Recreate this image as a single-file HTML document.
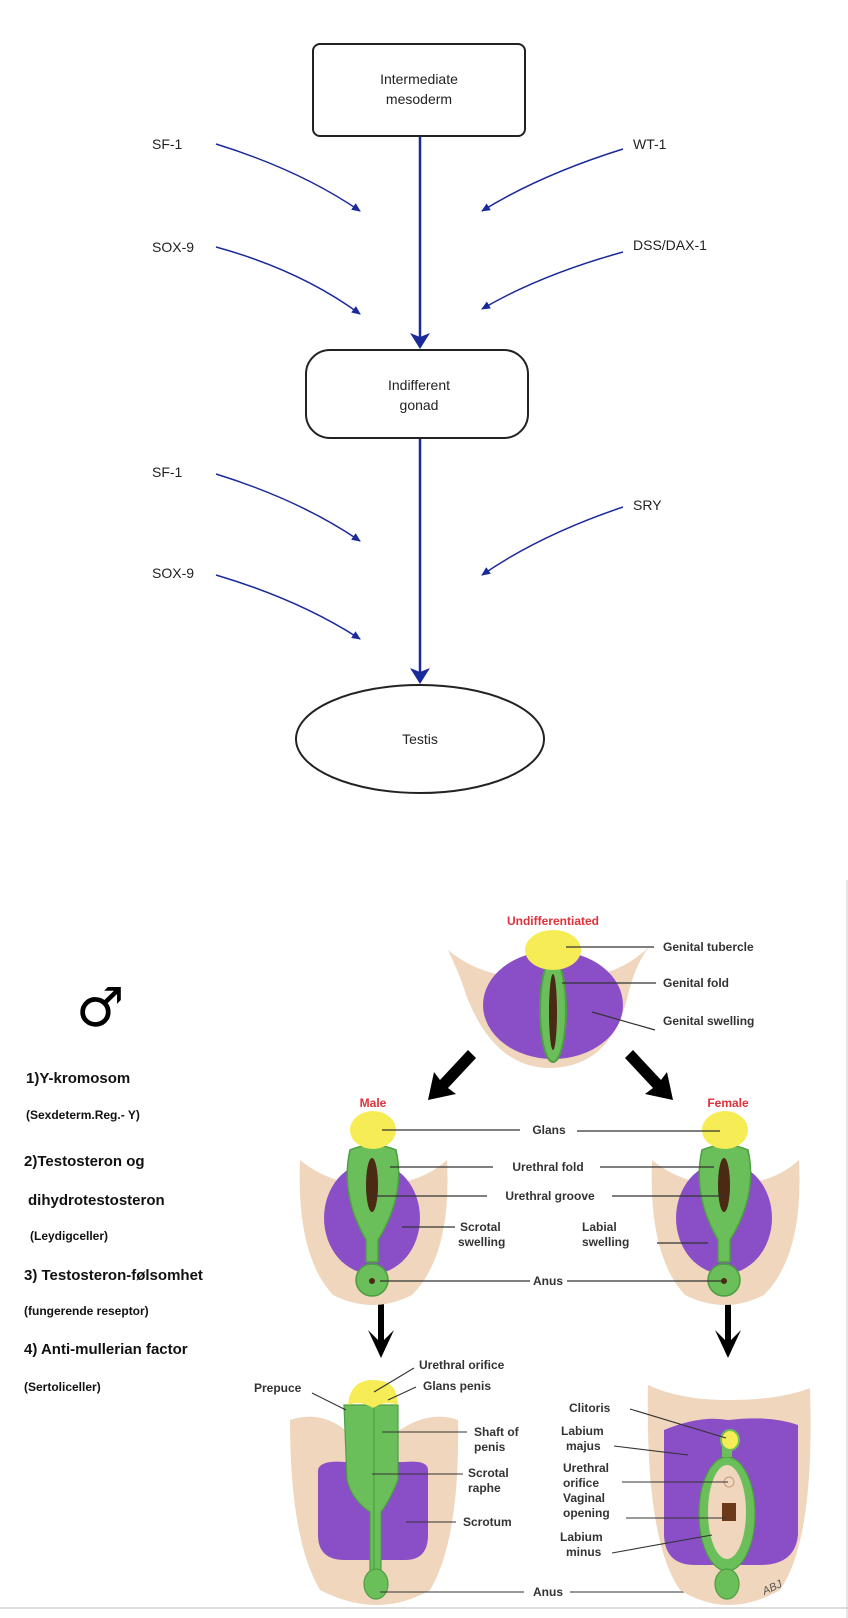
<!DOCTYPE html>
<html><head><meta charset="utf-8"><style>
html,body{margin:0;padding:0;background:#fff;}
svg{display:block;}
.f{font-family:"Liberation Sans",Arial,sans-serif;}
</style></head><body>
<svg width="848" height="1618" viewBox="0 0 848 1618" xmlns="http://www.w3.org/2000/svg" class="f">
<defs>
<marker id="ab" markerWidth="10" markerHeight="10" refX="8" refY="5" orient="auto" markerUnits="userSpaceOnUse"><path d="M0,1 L9,5 L0,9 z" fill="#1a2a9a"/></marker>
<marker id="abig" markerWidth="16" markerHeight="20" refX="14" refY="10" orient="auto" markerUnits="userSpaceOnUse"><path d="M0,0 L16,10 L0,20 L4,10 z" fill="#1a2a9a"/></marker>
</defs>
<!-- top flowchart -->
<rect x="313" y="44" width="212" height="92" rx="7" fill="#fff" stroke="#222" stroke-width="2"/>
<text x="419" y="84" font-size="14" text-anchor="middle" fill="#222">Intermediate</text>
<text x="419" y="104" font-size="14" text-anchor="middle" fill="#222">mesoderm</text>
<line x1="420" y1="137" x2="420" y2="347" stroke="#1a2a9a" stroke-width="2.5" marker-end="url(#abig)"/>
<rect x="306" y="350" width="222" height="88" rx="24" fill="#fff" stroke="#222" stroke-width="2"/>
<text x="419" y="390" font-size="14" text-anchor="middle" fill="#222">Indifferent</text>
<text x="419" y="410" font-size="14" text-anchor="middle" fill="#222">gonad</text>
<line x1="420" y1="439" x2="420" y2="682" stroke="#1a2a9a" stroke-width="2.5" marker-end="url(#abig)"/>
<ellipse cx="420" cy="739" rx="124" ry="54" fill="#fff" stroke="#222" stroke-width="2"/>
<text x="420" y="744" font-size="14" text-anchor="middle" fill="#222">Testis</text>
<g font-size="14" fill="#222">
<text x="152" y="149">SF-1</text><text x="152" y="252">SOX-9</text>
<text x="633" y="149">WT-1</text><text x="633" y="250">DSS/DAX-1</text>
<text x="152" y="477">SF-1</text><text x="152" y="578">SOX-9</text>
<text x="633" y="510">SRY</text>
</g>
<g fill="none" stroke="#1a2a9a" stroke-width="1.5" marker-end="url(#ab)">
<path d="M216,144 Q300,170 360,211"/>
<path d="M216,247 Q300,270 360,314"/>
<path d="M623,149 Q540,175 482,211"/>
<path d="M623,252 Q540,275 482,309"/>
<path d="M216,474 Q300,500 360,541"/>
<path d="M216,575 Q300,600 360,639"/>
<path d="M623,507 Q540,535 482,575"/>
</g>
<!-- bottom section left text -->
<text x="76" y="1026" font-size="54" font-weight="bold" fill="#000" font-family="DejaVu Sans,sans-serif">♂</text>
<g font-family="Liberation Sans Narrow,Liberation Sans,sans-serif" font-weight="bold" fill="#111">
<text x="26" y="1083" font-size="15">1)Y-kromosom</text>
<text x="26" y="1119" font-size="12">(Sexdeterm.Reg.- Y)</text>
<text x="24" y="1166" font-size="15">2)Testosteron og</text>
<text x="28" y="1205" font-size="15">dihydrotestosteron</text>
<text x="30" y="1240" font-size="12">(Leydigceller)</text>
<text x="24" y="1280" font-size="15">3) Testosteron-følsomhet</text>
<text x="24" y="1315" font-size="12">(fungerende reseptor)</text>
<text x="24" y="1354" font-size="15">4) Anti-mullerian factor</text>
<text x="24" y="1391" font-size="12">(Sertoliceller)</text>
</g>
<!-- undifferentiated -->
<text x="553" y="925" font-size="12" font-weight="bold" fill="#e0303a" text-anchor="middle">Undifferentiated</text>
<path d="M448,950 Q462,980 466,995 Q495,1070 553,1068 Q612,1065 628,995 Q636,962 650,946 Q610,985 553,975 Q490,985 448,950z" fill="#efd6bd"/>
<ellipse cx="553" cy="1005" rx="70" ry="54" fill="#8a4fc7"/>
<ellipse cx="553" cy="1010" rx="13" ry="52" fill="#6bbf5a" stroke="#4e9e43" stroke-width="2"/>
<ellipse cx="553" cy="1012" rx="4" ry="38" fill="#4a2a14"/>
<ellipse cx="553" cy="950" rx="28" ry="20" fill="#f6ec55"/>
<g stroke="#333" stroke-width="1.2">
<line x1="566" y1="947" x2="654" y2="947"/><line x1="562" y1="983" x2="656" y2="983"/><line x1="592" y1="1012" x2="655" y2="1030"/>
</g>
<g font-size="12" font-weight="bold" fill="#333">
<text x="663" y="951">Genital tubercle</text><text x="663" y="987">Genital fold</text><text x="663" y="1025">Genital swelling</text>
</g>
<!-- big black arrows -->
<g fill="#000">
<path d="M468,1050 L440,1080 L434,1072 L428,1100 L456,1094 L448,1088 L476,1058z"/>
<path d="M633,1050 L661,1080 L667,1072 L673,1100 L645,1094 L653,1088 L625,1058z"/>
<path d="M378,1302 L378,1340 L368,1330 L381,1358 L394,1330 L384,1340 L384,1302z"/>
<path d="M725,1302 L725,1340 L715,1330 L728,1358 L741,1330 L731,1340 L731,1302z"/>
</g>
<text x="373" y="1107" font-size="12" font-weight="bold" fill="#e0303a" text-anchor="middle">Male</text>
<text x="728" y="1107" font-size="12" font-weight="bold" fill="#e0303a" text-anchor="middle">Female</text>
<!-- male middle -->
<g id="mid">
<path d="M300,1160 Q330,1185 373,1185 Q420,1185 447,1160 Q452,1255 412,1295 Q373,1315 333,1295 Q296,1255 300,1160z" fill="#efd6bd"/>
<ellipse cx="372" cy="1218" rx="48" ry="56" fill="#8a4fc7"/>
<path d="M350,1150 Q373,1140 396,1150 Q406,1195 378,1240 L378,1262 L366,1262 L366,1240 Q340,1195 350,1150z" fill="#6bbf5a" stroke="#4e9e43" stroke-width="1.5"/>
<ellipse cx="372" cy="1185" rx="6" ry="27" fill="#4a2a14"/>
<circle cx="372" cy="1280" r="16" fill="#6bbf5a" stroke="#4e9e43" stroke-width="1.5"/>
<circle cx="372" cy="1281" r="3" fill="#4a2a14"/>
<ellipse cx="373" cy="1130" rx="23" ry="19" fill="#f6ec55"/>
</g>
<use href="#mid" transform="translate(352,0)"/>
<g stroke="#333" stroke-width="1.2">
<line x1="382" y1="1130" x2="520" y2="1130"/><line x1="577" y1="1131" x2="720" y2="1131"/>
<line x1="390" y1="1167" x2="493" y2="1167"/><line x1="600" y1="1167" x2="714" y2="1167"/>
<line x1="372" y1="1196" x2="487" y2="1196"/><line x1="612" y1="1196" x2="724" y2="1196"/>
<line x1="402" y1="1227" x2="455" y2="1227"/><line x1="657" y1="1243" x2="708" y2="1243"/>
<line x1="380" y1="1281" x2="530" y2="1281"/><line x1="567" y1="1281" x2="722" y2="1281"/>
</g>
<g font-size="12" font-weight="bold" fill="#333">
<text x="549" y="1134" text-anchor="middle">Glans</text>
<text x="548" y="1171" text-anchor="middle">Urethral fold</text>
<text x="550" y="1200" text-anchor="middle">Urethral groove</text>
<text x="460" y="1231">Scrotal</text><text x="458" y="1246">swelling</text>
<text x="582" y="1231">Labial</text><text x="582" y="1246">swelling</text>
<text x="548" y="1285" text-anchor="middle">Anus</text>
</g>
<!-- male bottom -->
<path d="M290,1420 Q320,1410 345,1430 L400,1430 Q430,1410 458,1420 Q460,1540 430,1590 Q378,1620 320,1590 Q290,1540 290,1420z" fill="#efd6bd"/>
<path d="M318,1470 Q320,1460 345,1462 L405,1462 Q428,1460 428,1470 L428,1535 Q428,1560 405,1560 L345,1560 Q318,1560 318,1535z" fill="#8a4fc7"/>
<path d="M344,1405 L398,1405 L398,1480 Q390,1500 381,1512 L381,1572 L370,1572 L370,1512 Q352,1500 347,1480z" fill="#6bbf5a" stroke="#4e9e43" stroke-width="1.2"/>
<line x1="374" y1="1405" x2="374" y2="1572" stroke="#4e9e43" stroke-width="1.2"/>
<ellipse cx="376" cy="1584" rx="12" ry="15" fill="#6bbf5a" stroke="#4e9e43" stroke-width="1.2"/>
<path d="M348,1405 Q350,1380 373,1380 Q398,1380 398,1405 Q385,1400 373,1408 Q360,1400 348,1405z" fill="#f6ec55"/>
<g stroke="#333" stroke-width="1.1">
<line x1="374" y1="1392" x2="414" y2="1368"/><line x1="388" y1="1400" x2="416" y2="1387"/>
<line x1="312" y1="1393" x2="346" y2="1410"/>
<line x1="382" y1="1432" x2="467" y2="1432"/><line x1="372" y1="1474" x2="463" y2="1474"/>
<line x1="406" y1="1522" x2="456" y2="1522"/><line x1="380" y1="1592" x2="524" y2="1592"/>
<line x1="570" y1="1592" x2="720" y2="1592"/>
</g>
<g font-size="12" font-weight="bold" fill="#333">
<text x="419" y="1369">Urethral orifice</text><text x="423" y="1390">Glans penis</text>
<text x="254" y="1392">Prepuce</text>
<text x="474" y="1436">Shaft of</text><text x="474" y="1451">penis</text>
<text x="468" y="1477">Scrotal</text><text x="468" y="1492">raphe</text>
<text x="463" y="1526">Scrotum</text>
<text x="548" y="1596" text-anchor="middle">Anus</text>
</g>
<!-- female bottom -->
<path d="M648,1385 Q680,1400 728,1400 Q780,1400 810,1388 Q815,1540 780,1590 Q728,1620 680,1590 Q645,1540 648,1385z" fill="#efd6bd"/>
<path d="M664,1430 Q700,1415 728,1420 Q770,1415 798,1425 L798,1535 Q795,1565 760,1565 L695,1565 Q665,1565 664,1535z" fill="#8a4fc7"/>
<ellipse cx="727" cy="1514" rx="28" ry="57" fill="#6bbf5a" stroke="#4e9e43" stroke-width="1.2"/>
<ellipse cx="727" cy="1512" rx="19" ry="47" fill="#efd6bd"/>
<rect x="722" y="1570" width="10" height="10" fill="#6bbf5a"/>
<ellipse cx="727" cy="1584" rx="12" ry="15" fill="#6bbf5a" stroke="#4e9e43" stroke-width="1.2"/>
<rect x="722" y="1443" width="10" height="14" fill="#6bbf5a"/>
<ellipse cx="730" cy="1440" rx="9" ry="10" fill="#f6ec55" stroke="#6bbf5a" stroke-width="2"/>
<circle cx="729" cy="1482" r="5" fill="none" stroke="#c89a80"/>
<rect x="722" y="1503" width="14" height="18" fill="#6b3a1a"/>
<g stroke="#333" stroke-width="1.1">
<line x1="630" y1="1409" x2="726" y2="1438"/><line x1="614" y1="1446" x2="688" y2="1455"/>
<line x1="622" y1="1482" x2="728" y2="1482"/><line x1="626" y1="1518" x2="726" y2="1518"/>
<line x1="612" y1="1553" x2="712" y2="1535"/>
</g>
<g font-size="12" font-weight="bold" fill="#333">
<text x="569" y="1412">Clitoris</text>
<text x="561" y="1435">Labium</text><text x="566" y="1450">majus</text>
<text x="563" y="1472">Urethral</text><text x="563" y="1487">orifice</text>
<text x="563" y="1502">Vaginal</text><text x="563" y="1517">opening</text>
<text x="560" y="1541">Labium</text><text x="566" y="1556">minus</text>
</g>
<text x="762" y="1592" font-size="11" fill="#555" font-style="italic" transform="rotate(-25 770 1588)">ABJ</text>
<line x1="0" y1="1608" x2="848" y2="1608" stroke="#bbb" stroke-width="1"/>
<line x1="847" y1="880" x2="847" y2="1618" stroke="#ccc" stroke-width="1"/>
</svg>
</body></html>
